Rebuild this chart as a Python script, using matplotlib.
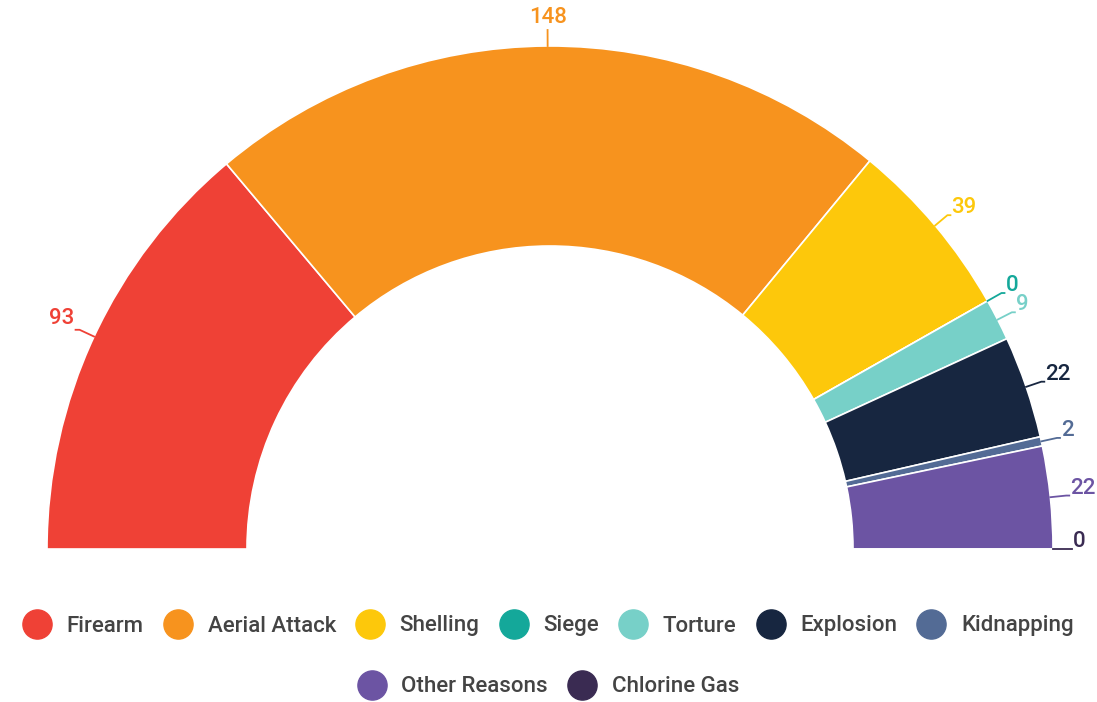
import matplotlib.pyplot as plt
import numpy as np
from matplotlib.lines import Line2D

plt.rcParams['font.family'] = ['Roboto', 'DejaVu Sans']

# data
categories = ['Firearm', 'Aerial Attack', 'Shelling', 'Siege', 'Torture',
              'Explosion', 'Kidnapping', 'Other Reasons', 'Chlorine Gas']
values = [93, 148, 39, 0, 9, 22, 2, 22, 0]
colors = ['#ef4136', '#f7931e', '#fdc80b', '#14a89a', '#77d0c8',
          '#172640', '#536b95', '#6c54a3', '#3a2b52']

W, H = 1097, 702
fig = plt.figure(figsize=(W / 100, H / 100), dpi=100)
ax = fig.add_axes([0, 0, 1, 1])

cx, cy = 550, -549
R, ring = 503, 200
total = sum(values)

# half donut: add an invisible wedge for the lower half
wedges, _ = ax.pie(values + [total], colors=colors + ['none'], startangle=180,
                   counterclock=False, center=(cx, cy), radius=R,
                   wedgeprops=dict(width=ring, edgecolor='white', linewidth=1.2))
wedges[-1].set_visible(False)

ax.set_xlim(0, W)
ax.set_ylim(-H, 0)
ax.set_aspect('equal')
ax.set_axis_off()

# value labels with leader lines
for w, v, c in zip(wedges[:-1], values, colors):
    mid = np.deg2rad((w.theta1 + w.theta2) / 2)
    x0, y0 = cx + R * np.cos(mid), cy + R * np.sin(mid)
    x1, y1 = cx + (R + 16) * np.cos(mid), cy + (R + 16) * np.sin(mid)
    if abs(np.cos(mid)) < 0.05:
        ax.plot([x0, x1], [y0, y1], color=c, lw=1.3)
        ax.text(x1, y1 + 2, str(v), color=c, fontsize=16, fontweight='medium',
                ha='center', va='bottom')
    elif np.cos(mid) < 0:
        x2 = x1 - 4
        ax.plot([x0, x1, x2], [y0, y1, y1], color=c, lw=1.3)
        ax.text(x2 - 1, y1 + 1, str(v), color=c, fontsize=16, fontweight='medium',
                ha='right', va='bottom')
    else:
        x2 = x1 + 3
        ax.plot([x0, x1, x2], [y0, y1, y1], color=c, lw=1.3)
        ax.text(x2 + 1, y1 - 3, str(v), color=c, fontsize=16, fontweight='medium',
                ha='left', va='bottom')

handles = [Line2D([], [], marker='o', linestyle='', markersize=21,
                  markerfacecolor=c, markeredgecolor=c) for c in colors]

common = dict(frameon=False, prop=dict(size=16, weight='medium'),
              handletextpad=0.7, columnspacing=0.92,
              handlelength=1.25, labelcolor='#444444', borderaxespad=0)
fig.legend(handles[:7], categories[:7], loc='center', ncol=7,
           bbox_to_anchor=(0.5, 1 - 626 / H), **common)
fig.legend(handles[7:], categories[7:], loc='center', ncol=2,
           bbox_to_anchor=(0.5, 1 - 687 / H), **common)

fig.savefig('out.png', dpi=100)
